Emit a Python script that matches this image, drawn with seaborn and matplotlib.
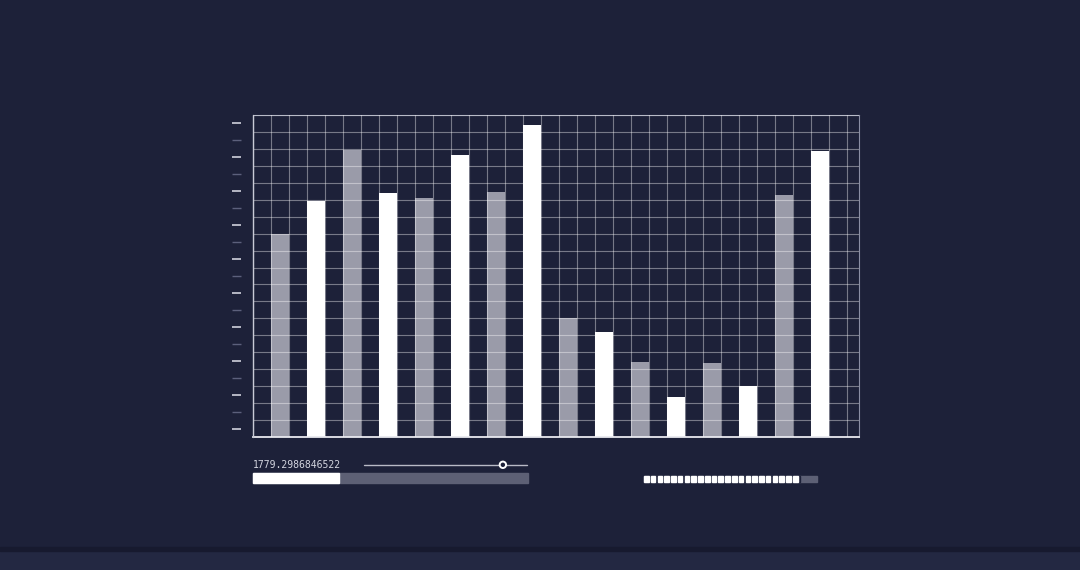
import numpy as np
import pandas as pd
import matplotlib
matplotlib.use("Agg")
import matplotlib.pyplot as plt
import seaborn as sns
from matplotlib.patches import Rectangle, Circle

# ---- data ----
categories = [str(i) for i in range(1, 17)]
values = [12.0, 13.9, 16.9, 14.4, 14.1, 16.6, 14.45, 18.4,
          7.05, 6.2, 4.45, 2.35, 4.35, 3.0, 14.3, 16.85]
kinds = ["gray", "white"] * 8
readout_text = "1779.2986846522"
progress_fraction = 0.312
slider_fraction = 0.852
dash_count = 23
dash_fill_fraction = 0.90

BG = "#1d2139"
GRAY_BAR = "#9a9ba9"
WHITE = "#ffffff"

sns.set_theme(style="dark")
plt.rcParams["font.family"] = ["DejaVu Sans Mono", "DejaVu Sans"]

W, H = 1080, 570
fig = plt.figure(figsize=(W / 100, H / 100), dpi=100, facecolor=BG)

# background axes (pixel coords) for bottom strip
bg = fig.add_axes([0, 0, 1, 1], zorder=0)
bg.set_xlim(0, W)
bg.set_ylim(H, 0)
bg.axis("off")
bg.add_patch(Rectangle((0, 0), W, H, color=BG))
bg.add_patch(Rectangle((0, 551), W, 19, color="#232842"))
bg.add_patch(Rectangle((0, 547), W, 4, color="#171a2f"))

# main chart axes
L, R, T, B = 253, 859, 114.7, 437.3
pos = [L / W, 1 - B / H, (R - L) / W, (B - T) / H]
ax = fig.add_axes(pos, zorder=2)
ax.set_facecolor(BG)

df = pd.DataFrame({"cat": categories, "val": values, "kind": kinds})
sns.barplot(data=df, x="cat", y="val", hue="kind", dodge=False, width=0.5,
            palette={"gray": GRAY_BAR, "white": WHITE}, saturation=1,
            legend=False, ax=ax, linewidth=0)

ax.set_xlim(-0.75, 16.083)
ax.set_ylim(0, 19)
ax.set_xlabel("")
ax.set_ylabel("")

ax.set_xticks(np.arange(-0.75, 16.0, 0.5))
ax.set_xticklabels([])
ax.set_yticks(np.arange(0, 20, 1))
ax.set_yticklabels([])
ax.tick_params(axis="both", which="both", length=0)

ax.grid(True, which="major", color="white", alpha=0.40, linewidth=0.8)
ax.set_axisbelow(False)

ax.spines["left"].set_visible(False)
ax.spines["bottom"].set_color("#e8e9ef")
ax.spines["bottom"].set_linewidth(1.3)
for s in ("top", "right"):
    ax.spines[s].set_visible(True)
    ax.spines[s].set_color("#8a8ea4")
    ax.spines[s].set_linewidth(0.8)
ax.plot([0, 0], [0, 1], transform=ax.transAxes, color="#c8cad6",
        linewidth=1.0, clip_on=False, zorder=5)

# tick-mark axes with the same y range (left scale marks offset from frame)
axt = fig.add_axes(pos, zorder=2.5)
axt.patch.set_alpha(0)
axt.set_ylim(ax.get_ylim())
axt.set_xticks([])
for s in ("top", "right", "bottom"):
    axt.spines[s].set_visible(False)
axt.spines["left"].set_position(("outward", 8.6))
axt.spines["left"].set_visible(False)
axt.set_yticks(np.arange(0.5, 19, 2))
axt.set_yticks(np.arange(1.5, 18, 2), minor=True)
axt.tick_params(axis="y", which="major", left=True, length=6.5, width=1.2,
                color="#cfd1dc", direction="out", labelleft=False)
axt.tick_params(axis="y", which="minor", left=True, length=6.5, width=1.0,
                color="#5c607c", direction="out", labelleft=False)
axt.grid(False)

# overlay widgets (pixel coords)
ov = fig.add_axes([0, 0, 1, 1], zorder=3)
ov.set_xlim(0, W)
ov.set_ylim(H, 0)
ov.axis("off")
ov.patch.set_alpha(0)

ov.text(253, 465, readout_text, fontsize=7, color="#d4d6e0",
        family=["DejaVu Sans Mono"], va="center", ha="left")

# slider
s0, s1, sy = 364, 527, 464.8
ov.plot([s0, s1], [sy, sy], color="#b8bac6", linewidth=1.0)
kx = s0 + slider_fraction * (s1 - s0)
ov.add_patch(Circle((kx, sy), 3.2, facecolor=BG, edgecolor="#ffffff",
                    linewidth=1.4, zorder=4))

# progress bar
p0, p1, py0, py1 = 253, 528, 473.3, 482.7
ov.add_patch(Rectangle((p0, py0), p1 - p0, py1 - py0, color="#5d6075"))
ov.add_patch(Rectangle((p0, py0), progress_fraction * (p1 - p0), py1 - py0,
                       color="#ffffff"))

# dashed bar
d0, d1, dy0, dy1 = 644, 817, 475.7, 482.3
ov.add_patch(Rectangle((d0, dy0), d1 - d0, dy1 - dy0, color="#5d6075"))
fill_end = d0 + dash_fill_fraction * (d1 - d0)
period = (fill_end - d0) / dash_count
ov.add_patch(Rectangle((d0, dy0), fill_end - d0, dy1 - dy0, color=BG))
for k in range(dash_count):
    ov.add_patch(Rectangle((d0 + k * period, dy0), period * 0.68, dy1 - dy0,
                           color="#ffffff"))

fig.savefig("out.png", dpi=100, facecolor=BG)
